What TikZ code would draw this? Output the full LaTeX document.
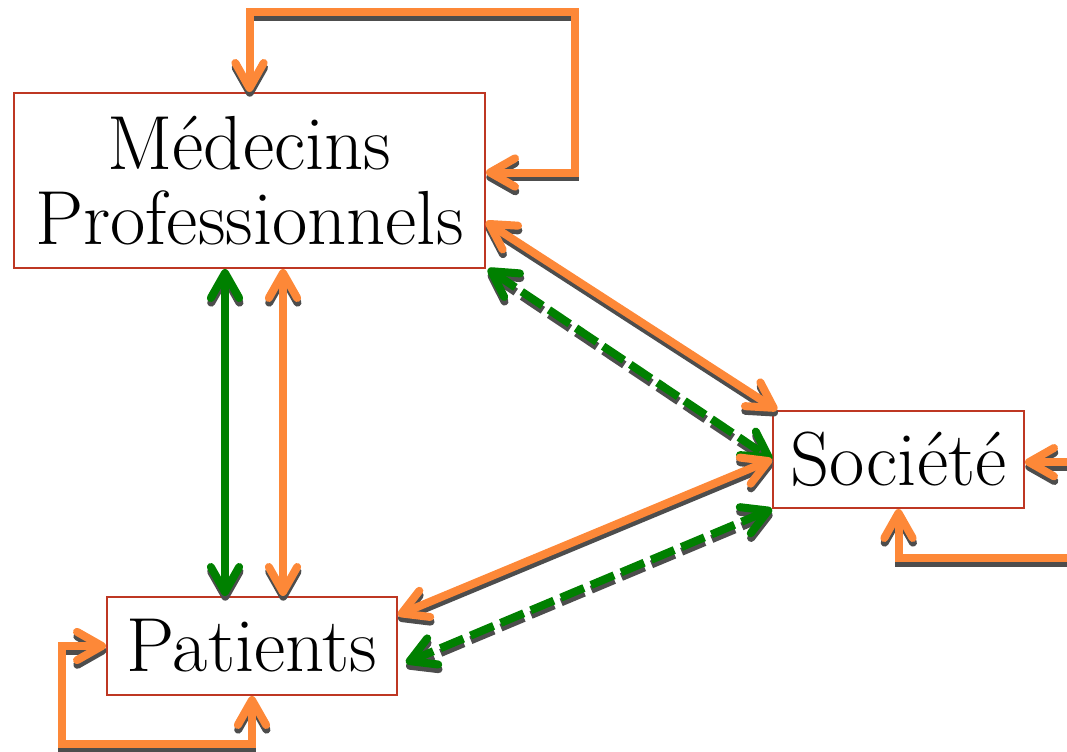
\documentclass[tikz,border=0pt]{standalone}
\usetikzlibrary{arrows.meta,calc}
\definecolor{orng}{RGB}{253,136,56}
\definecolor{grn}{RGB}{0,128,0}
\definecolor{shad}{RGB}{77,77,77}
\definecolor{boxred}{RGB}{190,55,35}
\tikzset{
  box/.style={draw=boxred,line width=0.6pt,fill=white,align=center,font=\fontsize{23}{22.5}\selectfont,inner sep=0pt},
  arr/.style={line width=2.4pt,{Straight Barb[length=7.5pt,width=8.5pt,round]}-{Straight Barb[length=7.5pt,width=8.5pt,round]}},
  oarr/.style={arr,draw=orng},
  garr/.style={arr,draw=grn},
  gdash/.style={arr,draw=grn,dash pattern=on 7.5pt off 2.3pt},
}
\begin{document}
\begin{tikzpicture}[x=0.3pt,y=-0.3pt]
\useasboundingbox (0,0) rectangle (1067,752);
\clip (0,0) rectangle (1067,752);
\node[box,minimum width=141.3pt,minimum height=52.5pt] (m) at (249.5,180.5) {Médecins\\Professionnels};
\node[box,minimum width=87pt,minimum height=29.4pt] (p) at (252,646) {Patients};
\node[box,minimum width=75.3pt,minimum height=29.1pt] (s) at (898.5,459.5) {Société};
\coordinate (mt) at (575,12);
\coordinate (st) at (1110,558);
\coordinate (pt) at (62,744);
\coordinate (gx) at (225,0);
\coordinate (ox) at (283,0);
% shadows
\begin{scope}[transform canvas={shift={(0.1pt,-1.4pt)}}]
\draw[arr,draw=shad] (m.north) |- (mt) |- ([yshift=2.4pt]m.east);
\draw[arr,draw=shad] (s.south) |- (st) |- ([yshift=-0.8pt]s.east);
\draw[arr,draw=shad] (p.west) -| (pt) -| (p.south);
\draw[arr,draw=shad] (m.south -| gx) -- (p.north -| gx);
\draw[arr,draw=shad] (m.south -| ox) -- (p.north -| ox);
\draw[arr,draw=shad] ([yshift=-12.4pt]m.east) -- ([xshift=1.5pt]s.north west);
\draw[gdash,draw=shad] ([xshift=0.6pt]m.south east) -- (s.west);
\draw[arr,draw=shad] (s.west) -- ([yshift=9.3pt]p.east);
\draw[gdash,draw=shad] (s.south west) -- ([xshift=2.4pt,yshift=-5pt]p.east);
\end{scope}
% loops
\draw[oarr] (m.north) |- (mt) |- ([yshift=2.4pt]m.east);
\draw[oarr] (s.south) |- (st) |- ([yshift=-0.8pt]s.east);
\draw[oarr] (p.west) -| (pt) -| (p.south);
% verticals
\draw[garr] (m.south -| gx) -- (p.north -| gx);
\draw[oarr] (m.south -| ox) -- (p.north -| ox);
% diagonals
\draw[oarr] ([yshift=-12.4pt]m.east) -- ([xshift=1.5pt]s.north west);
\draw[gdash] ([xshift=0.6pt]m.south east) -- (s.west);
\draw[oarr] (s.west) -- ([yshift=9.3pt]p.east);
\draw[gdash] (s.south west) -- ([xshift=2.4pt,yshift=-5pt]p.east);
\end{tikzpicture}
\end{document}
